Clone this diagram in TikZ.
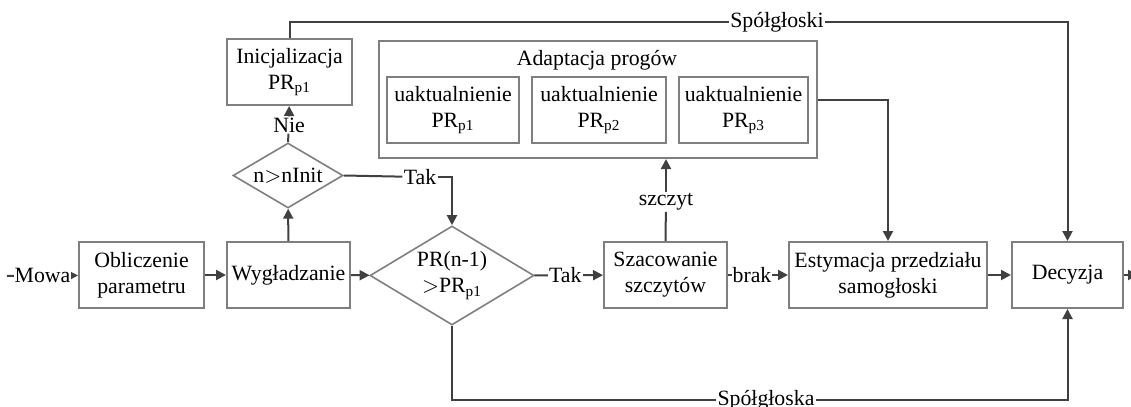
\documentclass[tikz,border=0pt]{standalone}
\usepackage{fontspec}
\setmainfont{Liberation Serif}
\usetikzlibrary{shapes.geometric,arrows.meta}
\definecolor{boxgray}{HTML}{7F7F7F}
\definecolor{linegray}{HTML}{404040}
\tikzset{
  blok/.style={draw=boxgray,line width=1pt,minimum height=33pt,align=center,inner sep=1pt},
  romb/.style={draw=boxgray,line width=0.8pt,diamond,align=center,inner sep=0pt},
  lbl/.style={fill=white,inner sep=0.5pt},
  arr/.style={draw=linegray,line width=1pt,-{Triangle[length=5pt,width=5pt]}},
  lin/.style={draw=linegray,line width=1pt}
}
\begin{document}
\fontsize{10.9}{13}\selectfont
\begin{tikzpicture}[x=0.5pt,y=-0.5pt]
\useasboundingbox (0,0) rectangle (1131,407);
% main row
\node[blok,minimum width=62.5pt] (obl) at (141.5,275) {Obliczenie\\parametru};
\node[blok,minimum width=61.5pt] (wyg) at (288.5,275) {Wygładzanie};
\node[romb,shape aspect=1.65,minimum width=82pt,minimum height=49.5pt] (pr) at (452,275.5) {PR(n-1)\\$>$PR$_{\mathrm{p1}}$};
\node[blok,minimum width=61.5pt] (sza) at (665.5,275) {Szacowanie\\szczytów};
\node[blok,minimum width=99pt] (est) at (888,275) {Estymacja przedziału\\samogłoski};
\node[blok,minimum width=55.5pt] (dec) at (1067.5,275) {Decyzja};
% upper left
\node[romb,shape aspect=1.7,minimum width=55pt,minimum height=32.5pt] (ninit) at (288,175.5) {n$>$nInit};
\node[blok,minimum width=62.5pt] (ini) at (289.5,72) {Inicjalizacja\\PR$_{\mathrm{p1}}$};
% adaptacja progow
\node[draw=boxgray,line width=1pt,minimum width=219pt,minimum height=58.5pt] (adp) at (598,99.5) {};
\node (adpt) at (597,60) {Adaptacja progów};
\node[blok,minimum width=66pt] (u1) at (453,110) {uaktualnienie\\PR$_{\mathrm{p1}}$};
\node[blok,minimum width=67pt] (u2) at (599,110) {uaktualnienie\\PR$_{\mathrm{p2}}$};
\node[blok,minimum width=64.5pt] (u3) at (743.5,110) {uaktualnienie\\PR$_{\mathrm{p3}}$};
% labels on lines
\coordinate (we) at (7,276);
\coordinate (wy) at (1138,275);
\node[lbl] (sp1) at (777,22) {Spółgłoski};
\node[lbl] (sp2) at (766,400) {Spółgłoska};
\node[lbl] (nie) at (289,125) {Nie};
\node[lbl] (tak1) at (420,177) {Tak};
\node[lbl] (szc) at (666,202) {szczyt};
% connectors
\draw[arr] (we) -- node[lbl]{Mowa} (obl);
\draw[arr] (obl) -- (wyg);
\draw[arr] (wyg) -- (pr);
\draw[arr] (pr) -- node[lbl,pos=0.45]{Tak} (sza);
\draw[arr] (sza) -- node[lbl,pos=0.4]{brak} (est);
\draw[arr] (est) -- (dec);
\draw[arr] (dec) -- (wy);
\draw[arr] (wyg) -- (ninit);
\draw[lin] (ninit.north) -- (nie);
\draw[arr] (nie) -- (ini);
\draw[lin] (ninit.east) -- (tak1);
\draw[arr] (tak1.east) -| (pr.north);
\draw[lin] (ini.north) |- (sp1.west);
\draw[arr] (sp1.east) -| (dec.north);
\draw[lin] (pr.south) |- (sp2.west);
\draw[arr] (sp2.east) -| (dec.south);
\draw[lin] (sza.north) -- (szc);
\draw[arr] (szc) -- (szc|-adp.south);
\draw[arr] (adp.east) -| (est.north);
\end{tikzpicture}
\end{document}
